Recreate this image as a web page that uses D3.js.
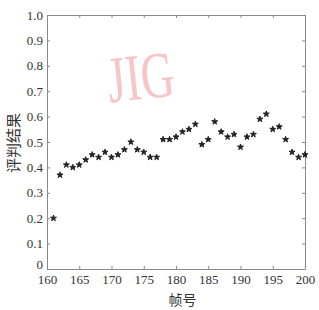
<!DOCTYPE html>
<html>
<head>
<meta charset="utf-8">
<script src="https://cdn.jsdelivr.net/npm/d3@7"></script>
<style>
  body { margin: 0; background: #fff; }
</style>
</head>
<body>
<div id="chart"></div>
<script>
// frame numbers and evaluation results
const frames = d3.range(161, 201);
const scores = [
  0.20, 0.37, 0.41, 0.40, 0.41, 0.43, 0.45, 0.44, 0.46, 0.44,
  0.45, 0.47, 0.50, 0.47, 0.46, 0.44, 0.44, 0.51, 0.51, 0.52,
  0.54, 0.55, 0.57, 0.49, 0.51, 0.58, 0.54, 0.52, 0.53, 0.48,
  0.52, 0.53, 0.59, 0.61, 0.55, 0.56, 0.51, 0.46, 0.44, 0.45
];
const xTicks = [160, 165, 170, 175, 180, 185, 190, 195, 200];
const yTicks = [0, 0.1, 0.2, 0.3, 0.4, 0.5, 0.6, 0.7, 0.8, 0.9, 1.0];

const W = 319, H = 310;
const margin = { top: 15, right: 14, bottom: 41, left: 47 };
const iw = W - margin.left - margin.right;
const ih = H - margin.top - margin.bottom;

const svg = d3.select('#chart').append('svg')
  .attr('width', W).attr('height', H);

const g = svg.append('g')
  .attr('transform', `translate(${margin.left},${margin.top})`);

const x = d3.scaleLinear().domain([160, 200]).range([0, iw]);
const y = d3.scaleLinear().domain([0, 1]).range([ih, 0]);

const serif = '"Liberation Serif", "Times New Roman", Times, "DejaVu Serif", serif';
const cjk = '"Noto Sans CJK SC", sans-serif';

// watermark
svg.append('text')
  .attr('transform', 'translate(143,99) rotate(-6) scale(0.7,1)')
  .attr('text-anchor', 'middle')
  .attr('font-family', serif)
  .attr('font-size', 66)
  .attr('fill', '#f8c4c4')
  .text('JIG');

// axes, ticks inside like matlab
const axisColor = '#8a8a8a';
function styleAxis(sel) {
  sel.attr('font-family', serif).attr('font-size', 13);
  sel.selectAll('path, line').attr('stroke', axisColor);
  sel.selectAll('text').attr('fill', '#333');
}

g.append('g')
  .attr('transform', `translate(0,${ih})`)
  .call(d3.axisBottom(x).tickValues(xTicks).tickSize(-3).tickPadding(6).tickSizeOuter(0))
  .call(styleAxis);

g.append('g')
  .call(d3.axisLeft(y).tickValues(yTicks)
    .tickFormat(d => d === 0 ? '0' : d3.format('.1f')(d))
    .tickSize(-3).tickPadding(4).tickSizeOuter(0))
  .call(styleAxis)
  .selectAll('text').filter(d => d === 0).attr('dy', '-0.05em');

g.append('g')
  .call(d3.axisTop(x).tickValues(xTicks).tickSize(-3).tickFormat('').tickSizeOuter(0))
  .call(styleAxis);

g.append('g')
  .attr('transform', `translate(${iw},0)`)
  .call(d3.axisRight(y).tickValues(yTicks).tickSize(-3).tickFormat('').tickSizeOuter(0))
  .call(styleAxis);

// points
const star = d3.symbol().type(d3.symbolStar).size(11);
g.selectAll('.pt')
  .data(frames.map((f, i) => [f, scores[i]]))
  .join('path')
  .attr('class', 'pt')
  .attr('d', star)
  .attr('transform', d => `translate(${x(d[0])},${y(d[1])})`)
  .attr('fill', '#222')
  .attr('stroke', '#222')
  .attr('stroke-width', 1);

// axis titles
svg.append('text')
  .attr('x', margin.left + x(181))
  .attr('y', 305)
  .attr('text-anchor', 'middle')
  .attr('fill', '#333')
  .attr('font-family', cjk)
  .attr('font-size', 14)
  .text('帧号');

svg.append('text')
  .attr('transform', 'translate(19,143) rotate(-90)')
  .attr('text-anchor', 'middle')
  .attr('fill', '#333')
  .attr('font-family', cjk)
  .attr('font-size', 15)
  .text('评判结果');
</script>
</body>
</html>
